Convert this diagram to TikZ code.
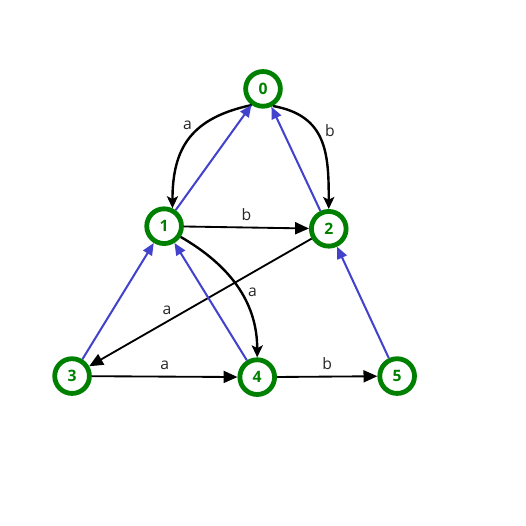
\documentclass[tikz,border=0pt]{standalone}
\usepackage{fontspec}
\setmainfont{Open Sans}
\usetikzlibrary{arrows.meta}
\definecolor{stategreen}{RGB}{0,128,0}
\definecolor{backblue}{RGB}{66,66,204}

\begin{document}
\begin{tikzpicture}[
    vert/.style={circle, draw=stategreen, line width=2.6pt, minimum size=0.66cm,
        inner sep=0pt, text=stategreen, font=\bfseries\fontsize{8.5}{8.5}\selectfont},
    fwd/.style={-{Triangle[length=7.5pt,width=6.5pt]}, line width=1pt},
    bent/.style={-{Stealth[length=6.5pt,width=6pt,inset=1.5pt]}, line width=1.3pt},
    back/.style={-{Triangle[length=6.5pt,width=5.5pt]}, line width=1.1pt, backblue},
    lbl/.style={font=\fontsize{8.5}{8.5}\selectfont, text=black!85}
]
    \useasboundingbox (0,0) rectangle (10,10);

    % states
    \node[vert] (n0) at (5.00,8.31) {0};
    \node[vert] (n1) at (3.12,5.70) {1};
    \node[vert] (n2) at (6.25,5.65) {2};
    \node[vert] (n3) at (1.37,2.85) {3};
    \node[vert] (n4) at (4.89,2.83) {4};
    \node[vert] (n5) at (7.55,2.85) {5};

    % forward transitions
    \draw[bent] (n0.235) to[out=192, in=90, looseness=1.2] node[lbl, pos=0.35, left, xshift=-2pt] {a} (n1.65);
    \draw[bent] (n0.-60) to[out=-10, in=90, looseness=1.2] node[lbl, pos=0.4, right, xshift=1pt] {b} (n2.north);
    \draw[fwd] (n1) -- node[lbl, above] {b} (n2);
    \draw[fwd] (n2) -- node[lbl, pos=0.65, above] {a} (n3);
    \draw[bent] (n1.-33) to[out=-30, in=90] node[lbl, pos=0.55, right] {a} (n4.north);
    \draw[fwd] (n3) -- node[lbl, above] {a} (n4);
    \draw[fwd] (n4) -- node[lbl, above] {b} (n5);

    % back links
    \draw[back] (n1) -- (n0);
    \draw[back] (n2) -- (n0);
    \draw[back] (n3) -- (n1);
    \draw[back] (n4) -- (n1);
    \draw[back] (n5) -- (n2);
\end{tikzpicture}
\end{document}
